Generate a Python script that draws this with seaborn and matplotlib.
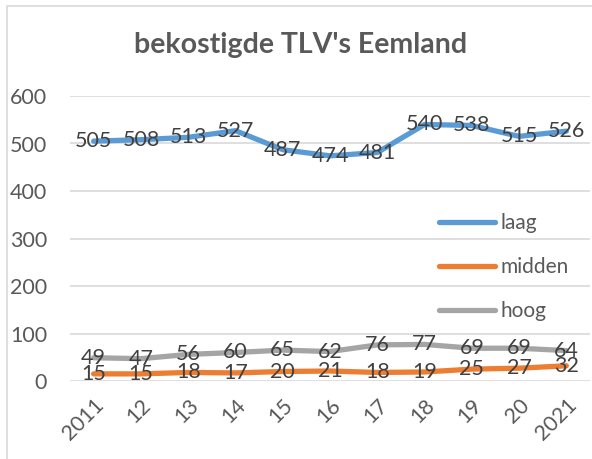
import matplotlib
matplotlib.use("Agg")
import matplotlib.pyplot as plt
import seaborn as sns
import pandas as pd
from matplotlib.patches import Rectangle

years = ["2011", "12", "13", "14", "15", "16", "17", "18", "19", "20", "2021"]
laag = [505, 508, 513, 527, 487, 474, 481, 540, 538, 515, 526]
midden = [15, 15, 18, 17, 20, 21, 18, 19, 25, 27, 32]
hoog = [49, 47, 56, 60, 65, 62, 76, 77, 69, 69, 64]

series = {"laag": laag, "midden": midden, "hoog": hoog}
colors = {"laag": "#5B9BD5", "midden": "#ED7D31", "hoog": "#A5A5A5"}

rows = []
for name, vals in series.items():
    for i, v in enumerate(vals):
        rows.append({"idx": i, "value": v, "niveau": name})
df = pd.DataFrame(rows)

sns.set_style("white")
plt.rcParams["font.family"] = ["Lato", "DejaVu Sans"]

fig = plt.figure(figsize=(5.92, 4.59), dpi=100)
ax = fig.add_axes([70 / 592, 1 - 381 / 459, 520 / 592, 285 / 459])

sns.lineplot(data=df, x="idx", y="value", hue="niveau", palette=colors,
             linewidth=3.8, ax=ax, legend=True, solid_capstyle="round")

for name, vals in series.items():
    for i, v in enumerate(vals):
        ax.text(i, v, str(v), ha="center", va="center", fontsize=15.5,
                color="#404040")

ax.set_xlim(-0.5, len(years) - 0.5)
ax.set_ylim(0, 600)
ax.set_yticks(range(0, 601, 100))
ax.set_xticks(range(len(years)))
ax.set_xticklabels(years, rotation=45, ha="right", rotation_mode="anchor")
ax.tick_params(axis="both", length=0, labelsize=15.5, labelcolor="#595959")
ax.tick_params(axis="y", pad=16.5)
ax.tick_params(axis="x", pad=10)
ax.set_xlabel("")
ax.set_ylabel("")
ax.grid(axis="y", color="#D9D9D9", linewidth=1.2)
ax.set_axisbelow(True)
for s in ax.spines.values():
    s.set_visible(False)

leg = ax.legend(loc="center left", bbox_to_anchor=(0.71, 0.40), frameon=False,
                fontsize=15, handlelength=2.7, handletextpad=0.25,
                labelspacing=1.15, borderpad=0, borderaxespad=0)
for t in leg.get_texts():
    t.set_color("#595959")

fig.text(0.507, 1 - 45 / 459, "bekostigde TLV's Eemland", ha="center", va="center",
         fontsize=20.5, fontweight="bold", color="#595959")

fig.patches.append(Rectangle((7 / 592, -0.1), 1.0, 1 - 6 / 459 + 0.1,
                             transform=fig.transFigure, fill=False,
                             edgecolor="#D9D9D9", linewidth=1.2))

fig.savefig("out.png", dpi=100)
